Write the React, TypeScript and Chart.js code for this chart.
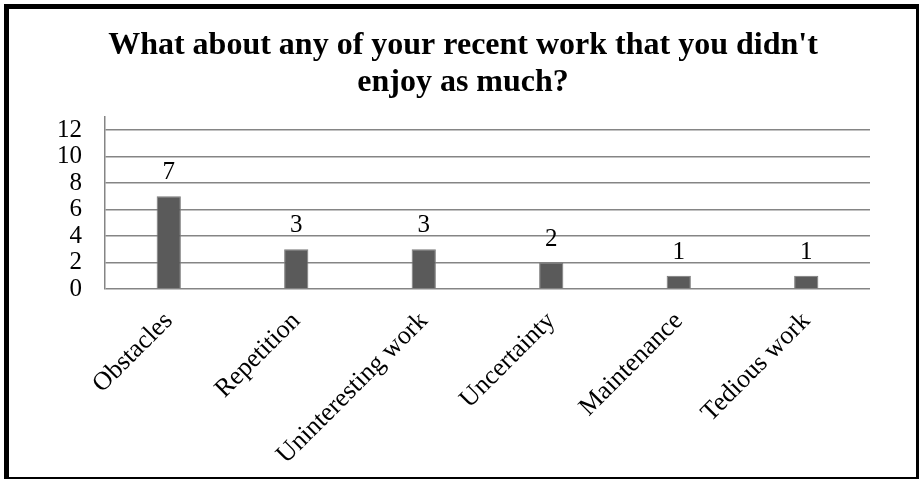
import React, { useEffect, useRef } from "react";
import { Chart, registerables } from "chart.js";

Chart.register(...registerables);

const TITLE_LINES = ["What about any of your recent work that you didn't", "enjoy as much?"];
const categories = ["Obstacles", "Repetition", "Uninteresting work", "Uncertainty", "Maintenance", "Tedious work"];
const counts = [7, 3, 3, 2, 1, 1];
const yTickValues = [0, 2, 4, 6, 8, 10, 12];

const FONT = '"Liberation Serif", "Times New Roman", serif';
const W = 922;
const H = 479;

const valueLabels = {
  id: "valueLabels",
  afterDatasetsDraw(chart: any) {
    const ctx = chart.ctx;
    const meta = chart.getDatasetMeta(0);
    ctx.save();
    ctx.font = `25px ${FONT}`;
    ctx.fillStyle = "#000";
    ctx.textAlign = "center";
    ctx.textBaseline = "alphabetic";
    meta.data.forEach((el: any, i: number) => {
      ctx.fillText(String(counts[i]), el.x, el.y - 17);
    });
    ctx.restore();
  },
};

export default function App() {
  const ref = useRef<HTMLCanvasElement | null>(null);
  useEffect(() => {
    if (!ref.current) return;
    const chart = new Chart(ref.current, {
      type: "bar",
      data: {
        labels: categories,
        datasets: [
          {
            data: counts,
            backgroundColor: "#5a5a5a",
            borderColor: "#7a7a7a",
            borderWidth: 1,
            categoryPercentage: 1,
            barPercentage: 0.19,
          },
        ],
      },
      options: {
        responsive: false,
        animation: false,
        layout: { padding: { left: 56, right: 52, top: 0, bottom: 0 } },
        plugins: {
          legend: { display: false },
          tooltip: { enabled: false },
          title: {
            display: true,
            text: TITLE_LINES,
            color: "#000",
            font: { family: FONT, size: 32, weight: "bold", lineHeight: 1.17 },
            padding: { top: 27, bottom: 15 },
          },
        },
        scales: {
          x: {
            grid: { display: false },
            border: { display: false },
            ticks: {
              color: "#000",
              font: { family: FONT, size: 26 },
              minRotation: 45,
              maxRotation: 45,
              padding: 9,
              autoSkip: false,
            },
            afterFit(scale: any) {
              scale.height = 190;
            },
          },
          y: {
            min: 0,
            max: 13,
            grid: { color: "#858585", lineWidth: 1.5, drawTicks: false },
            border: { display: true, color: "#858585", width: 1.5 },
            ticks: {
              stepSize: 2,
              autoSkip: false,
              color: "#000",
              font: { family: FONT, size: 25 },
              padding: 23,
            },
            afterBuildTicks(scale: any) {
              scale.ticks = yTickValues.map((v) => ({ value: v }));
            },
            afterFit(scale: any) {
              scale.width = 49;
            },
          },
        },
      },
      plugins: [valueLabels],
    });
    return () => chart.destroy();
  }, []);

  return (
    <div style={{ position: "fixed", left: 0, top: 0, width: W, height: H, background: "#fff" }}>
      <canvas ref={ref} width={W} height={H} style={{ position: "absolute", left: 0, top: 0, width: W, height: H }} />
      <div
        style={{
          position: "absolute",
          left: 4,
          top: 4,
          width: 915,
          height: 475,
          boxSizing: "border-box",
          borderStyle: "solid",
          borderColor: "#000",
          borderWidth: "5px 3px 2px 5px",
          pointerEvents: "none",
        }}
      />
    </div>
  );
}
